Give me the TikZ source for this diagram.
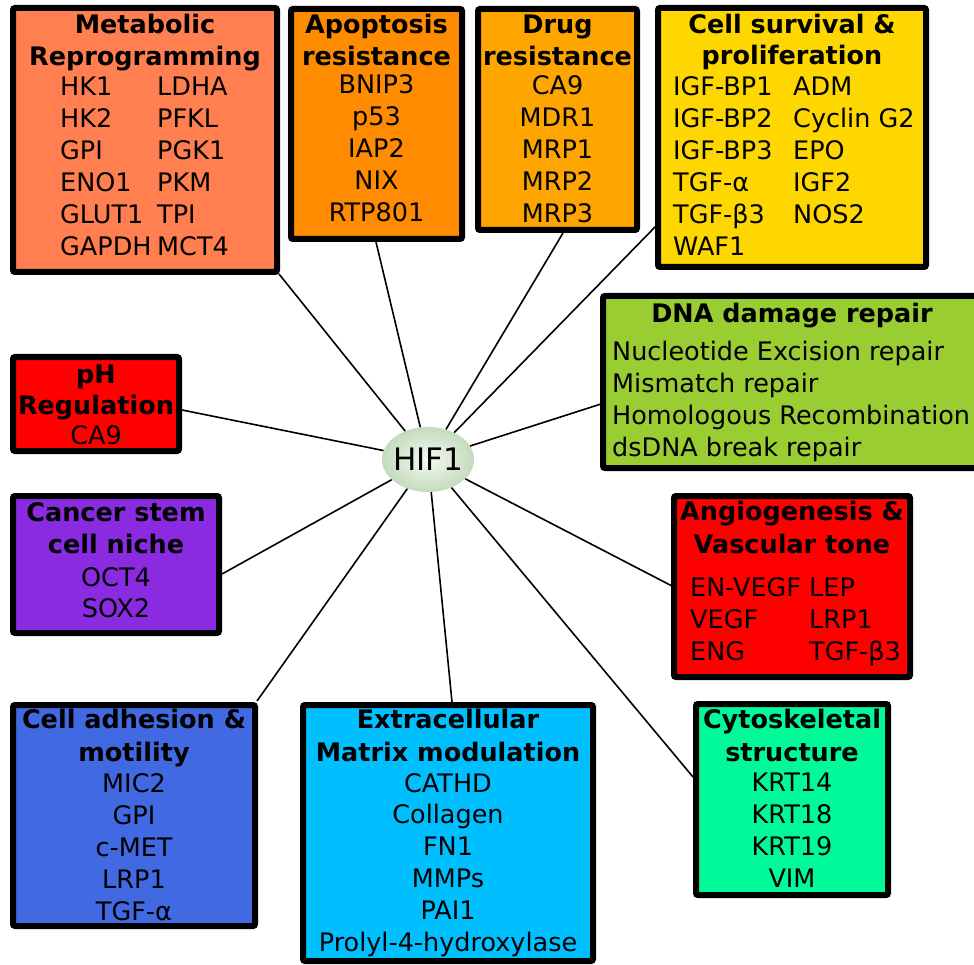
\documentclass[tikz,border=0pt]{standalone}
\usepackage{fontspec}
\setmainfont{DejaVu Sans}
\usetikzlibrary{shapes.geometric}

\definecolor{cMet}{HTML}{FF7F50}
\definecolor{cApo}{HTML}{FF8C00}
\definecolor{cDrug}{HTML}{FFA500}
\definecolor{cSurv}{HTML}{FFD700}
\definecolor{cDna}{HTML}{9ACD32}
\definecolor{cRed}{HTML}{FF0000}
\definecolor{cStem}{HTML}{8A2BE2}
\definecolor{cAdh}{HTML}{4169E1}
\definecolor{cEcm}{HTML}{00BFFF}
\definecolor{cCyto}{HTML}{00FA9A}
\definecolor{hifIn}{HTML}{F4F9F2}
\definecolor{hifOut}{HTML}{C4DBBC}

\tikzset{
  box/.style={draw=black, line width=6pt, rounded corners=2pt, rectangle, inner sep=0pt},
  hd/.style={font=\fontsize{25.5}{32}\selectfont\bfseries, anchor=base, inner sep=0pt},
  gn/.style={font=\fontsize{25.5}{32}\selectfont, anchor=base, inner sep=0pt},
  gl/.style={gn, anchor=base west},
  link/.style={line width=1.6pt, black},
  hub/.style={ellipse, inner sep=0pt, minimum width=92pt, minimum height=65pt,
              inner color=hifIn, outer color=hifOut,
              font=\fontsize{31}{36}\selectfont}
}

\begin{document}
\begin{tikzpicture}[x=1pt, y=-1pt]
\useasboundingbox (0,0) rectangle (974,965);

% central hub (zero-width text box so the ellipse keeps its set size)
\node[hub] (hif) at (428,459.5) {\makebox[0pt]{HIF1}};

% line ends on the box borders
\coordinate (eMet)  at (279,274);
\coordinate (eApo)  at (376,242);
\coordinate (eDrug) at (563,233);
\coordinate (eSurv) at (656,226);
\coordinate (eDna)  at (601,404);
\coordinate (ePh)   at (182,410);
\coordinate (eStem) at (222,574);
\coordinate (eAng)  at (672,586);
\coordinate (eAdh)  at (257,701);
\coordinate (eEcm)  at (452,702);
\coordinate (eCyto) at (693,777);

\foreach \e in {eMet,eApo,eDrug,eSurv,eDna,ePh,eStem,eAng,eAdh,eEcm,eCyto}
  \draw[link] (hif) -- (\e);

% category boxes
\node[box, fill=cMet,  minimum width=264pt, minimum height=264pt] (met)  at (145,140) {};
\node[box, fill=cApo,  minimum width=171pt, minimum height=230pt] (apo)  at (376.5,124) {};
\node[box, fill=cDrug, minimum width=159pt, minimum height=221pt] (drug) at (557.5,119.5) {};
\node[box, fill=cSurv, minimum width=268pt, minimum height=259pt] (surv) at (792,137.5) {};
\node[box, fill=cDna,  minimum width=378pt, minimum height=172pt] (dna)  at (792,382) {};
\node[box, fill=cRed,  minimum width=166pt, minimum height=94pt]  (ph)   at (96,404) {};
\node[box, fill=cStem, minimum width=206pt, minimum height=137pt] (stem) at (116,564.5) {};
\node[box, fill=cRed,  minimum width=236pt, minimum height=181pt] (ang)  at (792,586.5) {};
\node[box, fill=cAdh,  minimum width=242pt, minimum height=221pt] (adh)  at (134,815.5) {};
\node[box, fill=cEcm,  minimum width=290pt, minimum height=256pt] (ecm)  at (448,833) {};
\node[box, fill=cCyto, minimum width=192pt, minimum height=191pt] (cyto) at (792,799.5) {};

% Metabolic reprogramming
\node[hd] (metT1) at (145,34) {Metabolic};
\node[hd] (metT2) at (145,66) {Reprogramming};
\foreach \g [count=\i from 0] in {HK1,HK2,GPI,ENO1,GLUT1,GAPDH}
  \node[gl] (metA\i) at (60,96+32*\i) {\g};
\foreach \g [count=\i from 0] in {LDHA,PFKL,PGK1,PKM,TPI,MCT4}
  \node[gl] (metB\i) at (157,96+32*\i) {\g};

% Apoptosis resistance
\node[hd] (apoT1) at (376.5,34) {Apoptosis};
\node[hd] (apoT2) at (376.5,66) {resistance};
\foreach \g [count=\i from 0] in {BNIP3,p53,IAP2,NIX,RTP801}
  \node[gn] (apoG\i) at (376.5,93.5+32*\i) {\g};

% Drug resistance
\node[hd] (drugT1) at (557.5,34) {Drug};
\node[hd] (drugT2) at (557.5,66) {resistance};
\foreach \g [count=\i from 0] in {CA9,MDR1,MRP1,MRP2,MRP3}
  \node[gn] (drugG\i) at (557.5,95+32*\i) {\g};

% Cell survival & proliferation
\node[hd] (survT1) at (792,34) {Cell survival \&};
\node[hd] (survT2) at (792,65) {proliferation};
\foreach \g [count=\i from 0] in {IGF-BP1,IGF-BP2,IGF-BP3,TGF-α,TGF-β3,WAF1}
  \node[gl] (survA\i) at (673,96+32*\i) {\g};
\foreach \g [count=\i from 0] in {ADM,Cyclin G2,EPO,IGF2,NOS2}
  \node[gl] (survB\i) at (793,96+32*\i) {\g};

% DNA damage repair
\node[hd] (dnaT) at (792,323) {DNA damage repair};
\foreach \g [count=\i from 0] in {Nucleotide Excision repair,Mismatch repair,Homologous Recombination,dsDNA break repair}
  \node[gl] (dnaG\i) at (612,360+32*\i) {\g};

% pH regulation
\node[hd] (phT1) at (96,383) {pH};
\node[hd] (phT2) at (96,414) {Regulation};
\node[gn] (phG)  at (96,444) {CA9};

% Cancer stem cell niche
\node[hd] (stemT1) at (116,521) {Cancer stem};
\node[hd] (stemT2) at (116,553) {cell niche};
\node[gn] (stemG0) at (116,586) {OCT4};
\node[gn] (stemG1) at (116,617) {SOX2};

% Angiogenesis & vascular tone
\node[hd] (angT1) at (792,520) {Angiogenesis \&};
\node[hd] (angT2) at (792,553) {Vascular tone};
\foreach \g [count=\i from 0] in {EN-VEGF,VEGF,ENG}
  \node[gl] (angA\i) at (690,596+32*\i) {\g};
\foreach \g [count=\i from 0] in {LEP,LRP1,TGF-β3}
  \node[gl] (angB\i) at (809,596+32*\i) {\g};

% Cell adhesion & motility
\node[hd] (adhT1) at (134,728) {Cell adhesion \&};
\node[hd] (adhT2) at (134,761) {motility};
\foreach \g [count=\i from 0] in {MIC2,GPI,c-MET,LRP1,TGF-α}
  \node[gn] (adhG\i) at (134,792+32.2*\i) {\g};

% Extracellular matrix modulation
\node[hd] (ecmT1) at (448,728) {Extracellular};
\node[hd] (ecmT2) at (448,761) {Matrix modulation};
\foreach \g [count=\i from 0] in {CATHD,Collagen,FN1,MMPs,PAI1,Prolyl-4-hydroxylase}
  \node[gn] (ecmG\i) at (448,792+31.8*\i) {\g};

% Cytoskeletal structure
\node[hd] (cytoT1) at (792,728) {Cytoskeletal};
\node[hd] (cytoT2) at (792,761) {structure};
\foreach \g [count=\i from 0] in {KRT14,KRT18,KRT19,VIM}
  \node[gn] (cytoG\i) at (792,791+32.3*\i) {\g};
\end{tikzpicture}
\end{document}
